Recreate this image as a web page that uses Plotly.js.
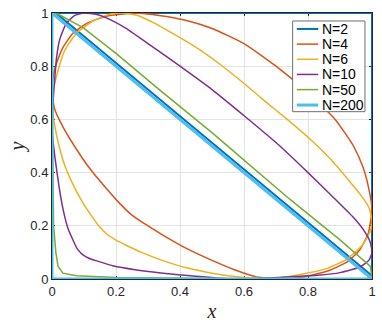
<!DOCTYPE html>
<html>
<head>
<meta charset="utf-8">
<script src="https://cdn.plot.ly/plotly-3.0.1.min.js"></script>
<style>
  body { margin: 0; background: #fff; }
  #plot { width: 382px; height: 327px; }
</style>
</head>
<body>
<div id="plot"></div>
<script>
// curve points, one closed loop per N
var n2X = [0.012, 1, 1, 0.012];
var n2Y = [1, 1, 0.012, 1];

var n4X = [0.7, 0.8, 0.885, 0.942, 0.972, 0.99, 1, 0.988, 0.962, 0.925,
  0.87, 0.81, 0.77, 0.71, 0.64, 0.57, 0.5, 0.42, 0.34, 0.29,
  0.245, 0.207, 0.17, 0.115, 0.07, 0.035, 0.008, 0, 0.005, 0.014,
  0.034, 0.066, 0.11, 0.17, 0.26, 0.34, 0.42, 0.5, 0.6, 0.7];
var n4Y = [0.8, 0.7, 0.6, 0.5, 0.42, 0.34, 0.26, 0.17, 0.11, 0.066,
  0.034, 0.014, 0.005, 0, 0.008, 0.035, 0.07, 0.115, 0.17, 0.207,
  0.245, 0.29, 0.34, 0.42, 0.5, 0.57, 0.64, 0.71, 0.77, 0.81,
  0.87, 0.925, 0.962, 0.988, 1, 0.99, 0.972, 0.942, 0.885, 0.8];

var n6X = [0.6, 0.667, 0.735, 0.812, 0.855, 0.893, 0.928, 0.962, 0.99, 1,
  0.995, 0.97, 0.923, 0.86, 0.78, 0.72, 0.66,
  0.58, 0.5, 0.42, 0.34, 0.28, 0.23, 0.2, 0.17, 0.146, 0.128, 0.1, 0.072, 0.042, 0.022, 0.008, 0,
  0.006, 0.018, 0.04, 0.076, 0.128, 0.18, 0.22,
  0.27, 0.32, 0.37, 0.42, 0.47, 0.52, 0.6];
var n6Y = [0.735, 0.667, 0.6, 0.52, 0.47, 0.42, 0.37, 0.32, 0.27, 0.22,
  0.18, 0.128, 0.076, 0.04, 0.018, 0.006, 0,
  0.008, 0.022, 0.042, 0.072, 0.1, 0.128, 0.146, 0.17, 0.2, 0.23, 0.28, 0.34, 0.42, 0.5, 0.58, 0.66,
  0.72, 0.78, 0.86, 0.923, 0.97, 0.995, 1,
  0.99, 0.962, 0.928, 0.893, 0.855, 0.812, 0.735];

var n10X = [0.5, 0.607, 0.712, 0.8, 0.885, 0.943, 0.976, 0.994, 1,
  0.99, 0.962, 0.9, 0.83, 0.76, 0.68, 0.56,
  0.45, 0.34, 0.26, 0.19, 0.14, 0.115, 0.098, 0.09, 0.078, 0.068, 0.05, 0.035, 0.023, 0.01, 0,
  0.004, 0.009, 0.014, 0.024, 0.045, 0.07, 0.1,
  0.14, 0.18, 0.23, 0.3, 0.4, 0.5];
var n10Y = [0.712, 0.607, 0.5, 0.4, 0.3, 0.23, 0.18, 0.14, 0.1,
  0.07, 0.045, 0.024, 0.014, 0.009, 0.004, 0,
  0.01, 0.023, 0.035, 0.05, 0.068, 0.078, 0.09, 0.098, 0.115, 0.14, 0.19, 0.26, 0.34, 0.45, 0.56,
  0.68, 0.76, 0.83, 0.9, 0.962, 0.99, 1,
  0.994, 0.976, 0.943, 0.885, 0.8, 0.712];

var n50X = [0, 0.02, 0.097, 0.2, 0.337, 0.5, 0.6, 0.743, 0.9, 0.995, 1,
  0.5, 0.2, 0.076, 0.034, 0.019, 0.012, 0.005, 0.002, 0];
var n50Y = [1, 0.995, 0.945, 0.848, 0.71, 0.55, 0.447, 0.3, 0.147, 0.047, 0,
  0.002, 0.006, 0.012, 0.022, 0.047, 0.1, 0.2, 0.5, 1];

var n200X = [0, 0, 1, 0];
var n200Y = [1, 0, 0, 1];

var names = ["N=2", "N=4", "N=6", "N=10", "N=50", "N=200"];
var colors = ["#0072BD", "#D95319", "#EDB120", "#7E2F8E", "#77AC30", "#4DBEEE"];
var widths = [2, 1.5, 1.5, 1.5, 1.5, 3];
var shapes = ["linear", "spline", "spline", "spline", "linear", "linear"];
var xs = [n2X, n4X, n6X, n10X, n50X, n200X];
var ys = [n2Y, n4Y, n6Y, n10Y, n50Y, n200Y];

var data = [];
for (var i = 0; i < names.length; i++) {
  data.push({
    type: "scatter",
    mode: "lines",
    name: names[i],
    x: xs[i],
    y: ys[i],
    cliponaxis: false,
    line: { color: colors[i], width: widths[i], shape: shapes[i], smoothing: 0.5 }
  });
}

// legend drawn as a boxed list, in paper units of the plot area
var legShapes = [{
  type: "rect", xref: "paper", yref: "paper", layer: "above",
  x0: 0.752, x1: 0.978, y0: 0.629, y1: 0.970,
  fillcolor: "#ffffff", line: { color: "#6e6e6e", width: 1 }
}];
var legAnn = [];
var legRowY = [0.940, 0.883, 0.826, 0.769, 0.712, 0.654];
for (var k = 0; k < names.length; k++) {
  legShapes.push({
    type: "line", xref: "paper", yref: "paper", layer: "above",
    x0: 0.765, x1: 0.832, y0: legRowY[k], y1: legRowY[k],
    line: { color: colors[k], width: widths[k] }
  });
  legAnn.push({
    xref: "paper", yref: "paper", x: 0.836, y: legRowY[k],
    xanchor: "left", yanchor: "middle", showarrow: false, text: names[k],
    font: { family: "Liberation Sans, Arial, sans-serif", size: 14, color: "#000000" }
  });
}

var tickVals = [0, 0.2, 0.4, 0.6, 0.8, 1];
var tickText = ["0", "0.2", "0.4", "0.6", "0.8", "1"];

var axisBase = {
  range: [0, 1],
  tickvals: tickVals,
  ticktext: tickText,
  ticks: "inside",
  ticklen: 3,
  tickcolor: "#262626",
  showline: true,
  linecolor: "#262626",
  linewidth: 1,
  mirror: "ticks",
  showgrid: true,
  gridcolor: "#e3e3e3",
  zeroline: false,
  layer: "below traces",
  automargin: false,
  tickfont: { family: "Liberation Sans, Arial, sans-serif", size: 13, color: "#262626" }
};

var layout = {
  width: 382, height: 327,
  margin: { t: 13, r: 10, b: 48, l: 52 },
  paper_bgcolor: "#ffffff",
  plot_bgcolor: "#ffffff",
  showlegend: false,
  shapes: legShapes,
  annotations: legAnn,
  xaxis: Object.assign({}, axisBase, {
    title: { text: "<i>x</i>", standoff: 6,
      font: { family: "Liberation Serif, serif", size: 20, color: "#262626" } }
  }),
  yaxis: Object.assign({}, axisBase, {
    title: { text: "<i>y</i>", standoff: 0,
      font: { family: "Liberation Serif, serif", size: 20, color: "#262626" } }
  })
};

var config = { displayModeBar: false, responsive: false, staticPlot: true };

Plotly.newPlot("plot", data, layout, config);
</script>
</body>
</html>
